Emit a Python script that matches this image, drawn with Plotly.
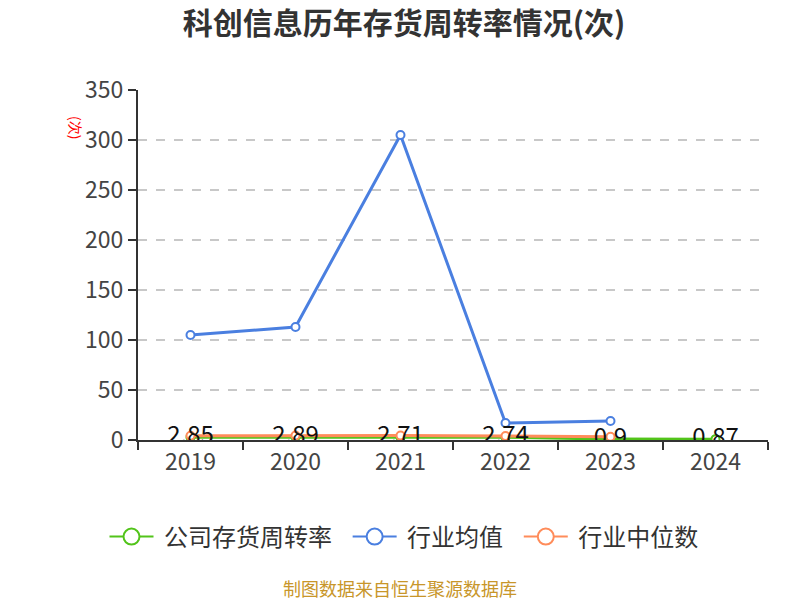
import plotly.graph_objects as go

years = ["2019", "2020", "2021", "2022", "2023", "2024"]
company = [2.85, 2.89, 2.71, 2.74, 0.9, 0.87]
industry_avg = [105, 113, 305, 17, 19, None]
industry_median = [4.3, 4.5, 4.4, 4.0, 3.3, None]
company_labels = ["2.85", "2.89", "2.71", "2.74", "0.9", "0.87"]
series_names = ["公司存货周转率", "行业均值", "行业中位数"]

FONT = "Noto Sans CJK SC"
GREEN = "#52c41a"
BLUE = "#4a7fe0"
ORANGE = "#ff8c5a"
COLORS = [GREEN, BLUE, ORANGE]

# page offset compensation (body margin 8px)
W, H = 792, 592
L, T = 130, 82
PW, PH = 630, 350

fig = go.Figure()

for name, y, color in zip(series_names, [company, industry_avg, industry_median], COLORS):
    fig.add_trace(go.Scatter(
        x=years, y=y, name=name, mode="lines+markers",
        line=dict(color=color, width=3),
        marker=dict(symbol="circle", size=8, color="white",
                    line=dict(color=color, width=2)),
        showlegend=False,
    ))

# labels on top
fig.add_trace(go.Scatter(
    x=years, y=company, mode="text", text=company_labels,
    textposition="middle center",
    textfont=dict(family=FONT, size=24, color="#111"),
    showlegend=False, hoverinfo="skip",
))

# legend entries with large open circles
for i, (name, color) in enumerate(zip(series_names, COLORS)):
    fig.add_trace(go.Scatter(
        x=[None], y=[None],
        name="&nbsp;" + name + ("&nbsp;&nbsp;" if i < 2 else ""),
        mode="lines+markers",
        line=dict(color=color, width=2),
        marker=dict(symbol="circle", size=18, color="white",
                    line=dict(color=color, width=2)),
        showlegend=True,
    ))

fig.update_layout(
    width=W, height=H,
    margin=dict(l=L, r=W - L - PW, t=T, b=H - T - PH),
    paper_bgcolor="white", plot_bgcolor="white",
    font=dict(family=FONT, color="#333"),
    title=dict(text="<b>科创信息历年存货周转率情况(次)</b>",
               x=0.5, xanchor="center", y=1 - 15 / H, yanchor="middle",
               font=dict(family=FONT, size=30, color="#333")),
    legend=dict(orientation="h", xref="container", x=0.5, xanchor="center",
                yref="container", y=1 - 529 / H, yanchor="middle",
                font=dict(family=FONT, size=24, color="#333"),
                itemwidth=44),
    showlegend=True,
)

fig.update_xaxes(
    type="category", range=[-0.5, 5.5],
    showline=True, linecolor="#333", linewidth=2,
    ticks="outside", tickson="boundaries", ticklen=8, tickcolor="#333", tickwidth=2,
    showgrid=False,
    tickfont=dict(family=FONT, size=23, color="#444"),
)
fig.update_yaxes(
    range=[0, 350], dtick=50,
    showline=True, linecolor="#333", linewidth=2,
    ticks="outside", ticklen=8, tickcolor="#333", tickwidth=2,
    showgrid=True, gridcolor="#c8c8c8", griddash="dash", gridwidth=1.5,
    zeroline=False,
    tickfont=dict(family=FONT, size=23, color="#444"),
)

fig.add_annotation(
    text="(次)", xref="paper", yref="paper",
    x=(76 - 138) / PW, y=(440 - 127) / PH,
    xanchor="center", yanchor="middle",
    showarrow=False, textangle=90,
    font=dict(family=FONT, size=14, color="red"),
)

fig.add_annotation(
    text="制图数据来自恒生聚源数据库", xref="paper", yref="paper",
    x=(400 - 138) / PW, y=(440 - 588) / PH, xanchor="center", yanchor="middle",
    showarrow=False,
    font=dict(family=FONT, size=18, color="#c8962a"),
)

fig.write_html("out.html")
